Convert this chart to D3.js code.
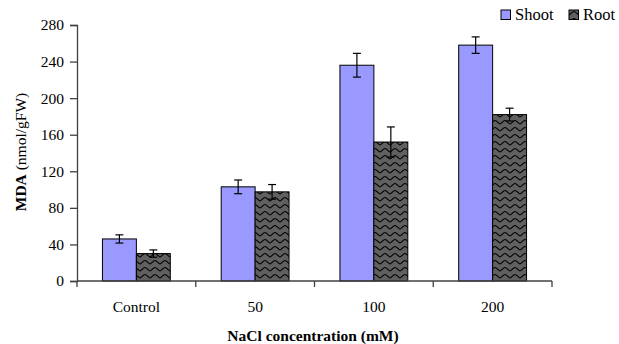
<!DOCTYPE html>
<html lang="en">
<head>
    <meta charset="UTF-8">
    <title>MDA</title>
    <style>
        body { margin: 0; background: #fff; }
    </style>
</head>
<body>
<script src="https://cdn.jsdelivr.net/npm/d3@7/dist/d3.min.js"></script>
<script>
    // data
    var categories = ["Control", "50", "100", "200"];
    var seriesNames = ["Shoot", "Root"];
    var shootValues = [46, 103, 236, 258];
    var shootErrors = [4.5, 7.5, 13, 9];
    var rootValues = [30, 97.5, 152, 182];
    var rootErrors = [4, 8, 16.5, 7];
    var yTicks = [0, 40, 80, 120, 160, 200, 240, 280];

    var W = 619, H = 344;
    var mLeft = 77, mRight = 552, mTop = 25, mBottom = 281;
    var serif = "'Liberation Serif', 'Times New Roman', serif";

    var svg = d3.select("body").append("svg")
            .attr("width", W)
            .attr("height", H);

    // wavy fill for the root bars
    var defs = svg.append("defs");
    var pat = defs.append("pattern")
            .attr("id", "wavy")
            .attr("patternUnits", "userSpaceOnUse")
            .attr("width", 10)
            .attr("height", 7);
    pat.append("rect").attr("width", 10).attr("height", 7).attr("fill", "#606060");
    pat.append("path")
            .attr("d", "M0,5 C1.5,5 3,1.5 5,1.5 C7,1.5 8.5,5 10,5")
            .attr("fill", "none")
            .attr("stroke", "#000")
            .attr("stroke-width", 1.1);

    var x0 = d3.scaleBand().domain(categories).range([mLeft, mRight]);
    var x1 = d3.scaleBand().domain(seriesNames).range([0, x0.bandwidth()]).paddingOuter(0.75);
    var y = d3.scaleLinear().domain([0, 280]).range([mBottom, mTop]);

    var rows = categories.map(function(c, i) {
        return [
            { cat: c, s: "Shoot", v: shootValues[i], e: shootErrors[i] },
            { cat: c, s: "Root", v: rootValues[i], e: rootErrors[i] }
        ];
    });
    var flat = d3.merge(rows);
    var fills = { Shoot: "#9999FF", Root: "url(#wavy)" };

    svg.append("g").selectAll("rect")
            .data(flat)
            .join("rect")
            .attr("x", function(d) { return x0(d.cat) + x1(d.s); })
            .attr("y", function(d) { return y(d.v); })
            .attr("width", x1.bandwidth())
            .attr("height", function(d) { return y(0) - y(d.v); })
            .attr("fill", function(d) { return fills[d.s]; })
            .attr("stroke", "#000")
            .attr("stroke-width", 1);

    // error bars
    var eb = svg.append("g").attr("stroke", "#000").attr("stroke-width", 1.2);
    flat.forEach(function(d) {
        var cx = x0(d.cat) + x1(d.s) + x1.bandwidth() / 2;
        eb.append("line").attr("x1", cx).attr("x2", cx).attr("y1", y(d.v + d.e)).attr("y2", y(d.v - d.e));
        eb.append("line").attr("x1", cx - 4).attr("x2", cx + 4).attr("y1", y(d.v + d.e)).attr("y2", y(d.v + d.e));
        eb.append("line").attr("x1", cx - 4).attr("x2", cx + 4).attr("y1", y(d.v - d.e)).attr("y2", y(d.v - d.e));
    });

    // y axis
    var yAxis = svg.append("g")
            .attr("transform", "translate(" + mLeft + ",0)")
            .call(d3.axisLeft(y).tickValues(yTicks).tickSizeOuter(0).tickSize(7).tickPadding(6));
    yAxis.select(".domain").attr("stroke", "#404040").attr("stroke-width", 1.3);
    yAxis.selectAll(".tick line").attr("stroke", "#404040").attr("stroke-width", 1.3);
    yAxis.selectAll("text")
            .style("font-family", serif)
            .style("font-size", "15.5px")
            .attr("fill", "#000");

    // x axis: ticks at category boundaries
    var xAxis = svg.append("g").attr("transform", "translate(0," + mBottom + ")");
    xAxis.append("line").attr("x1", mLeft).attr("x2", mRight)
            .attr("stroke", "#404040").attr("stroke-width", 1.3);
    xAxis.selectAll(".bt")
            .data(categories.map(function(c) { return x0(c); }).concat([mRight]))
            .join("line")
            .attr("x1", function(d) { return d; }).attr("x2", function(d) { return d; })
            .attr("y1", 0).attr("y2", 6)
            .attr("stroke", "#404040").attr("stroke-width", 1.3);
    xAxis.selectAll(".lbl")
            .data(categories)
            .join("text")
            .attr("x", function(d) { return x0(d) + x0.bandwidth() / 2; })
            .attr("y", 31)
            .attr("text-anchor", "middle")
            .style("font-family", serif)
            .style("font-size", "15.5px")
            .text(function(d) { return d; });

    // titles
    svg.append("text")
            .attr("x", 313).attr("y", 341)
            .attr("text-anchor", "middle")
            .style("font-family", serif)
            .style("font-size", "15.5px").style("font-weight", "bold")
            .text("NaCl concentration (mM)");

    var yt = svg.append("text")
            .attr("transform", "translate(26,152) rotate(-90)")
            .attr("text-anchor", "middle")
            .style("font-family", serif)
            .style("font-size", "15.5px");
    yt.append("tspan").style("font-weight", "bold").text("MDA");
    yt.append("tspan").text(" (nmol/gFW)");

    // legend
    var lg = svg.append("g").attr("transform", "translate(501,10)");
    var items = lg.selectAll("g").data(seriesNames).join("g")
            .attr("transform", function(d, i) { return "translate(" + (i * 68) + ",0)"; });
    items.append("rect").attr("width", 9.5).attr("height", 9.5)
            .attr("fill", function(d) { return fills[d]; })
            .attr("stroke", "#000").attr("stroke-width", 1);
    items.append("text").attr("x", 14).attr("y", 10)
            .style("font-family", serif)
            .style("font-size", "16.5px")
            .text(function(d) { return d; });
</script>
</body>
</html>
